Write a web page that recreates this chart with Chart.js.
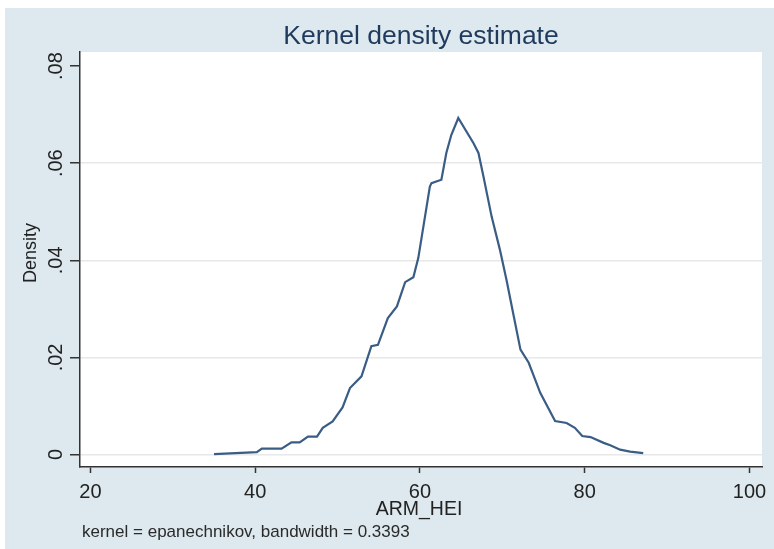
<!DOCTYPE html>
<html><head><meta charset="utf-8">
<script src="https://cdn.jsdelivr.net/npm/chart.js@4.4.1/dist/chart.umd.min.js"></script>
<style>html,body{margin:0;padding:0;background:#fff;}#wrap{width:774px;height:549px;position:relative}</style>
</head><body><div id="wrap"><canvas id="c" width="774" height="549"></canvas></div>
<script>
const chartTitle = "Kernel density estimate";
const xTitle = "ARM_HEI";
const yTitle = "Density";
const noteText = "kernel = epanechnikov, bandwidth = 0.3393";
const armHei = [35, 40.2, 40.8, 43.2, 44.4, 45.4, 46.4, 47.5, 48.2, 49.4, 50.6, 51.5, 52.9, 54.1, 54.9, 56.1, 57.2, 58.2, 59.2, 59.8, 61.2, 61.4, 62.6, 63.2, 63.8, 64.65, 66.5, 67.1, 67.7, 68.7, 69.7, 70.5, 71.3, 72.2, 73.2, 74.6, 76.4, 77.8, 78.8, 79.7, 80.7, 82.3, 83.1, 84.3, 85.5, 87.1];
const density = [0.0001, 0.0005, 0.0012, 0.0012, 0.0025, 0.0025, 0.0037, 0.0037, 0.0055, 0.0068, 0.0097, 0.0137, 0.0161, 0.0223, 0.0226, 0.0281, 0.0305, 0.0355, 0.0365, 0.0405, 0.0552, 0.0559, 0.0566, 0.0621, 0.0658, 0.0693, 0.0641, 0.0621, 0.0573, 0.0490, 0.0422, 0.0360, 0.0292, 0.0216, 0.0189, 0.0127, 0.0069, 0.0065, 0.0055, 0.0038, 0.0036, 0.0024, 0.0019, 0.0010, 0.0006, 0.0003];
const xTickValues = [20, 40, 60, 80, 100];
const yTickValues = [0, 0.02, 0.04, 0.06, 0.08];
const yTickLabels = ["0", ".02", ".04", ".06", ".08"];

const FONT = "'Liberation Sans', Arial, sans-serif";
const BG = "#dde9ee";

const decor = {
  id: 'decor',
  beforeDraw(chart) {
    const ctx = chart.ctx, a = chart.chartArea;
    ctx.save();
    ctx.fillStyle = '#ffffff';
    ctx.fillRect(0, 0, chart.width, chart.height);
    ctx.fillStyle = BG;
    ctx.fillRect(5, 8, chart.width - 5, chart.height - 8);
    ctx.fillStyle = '#ffffff';
    ctx.fillRect(a.left, a.top, a.right - a.left, a.bottom - a.top);
    ctx.restore();
  },
  afterDraw(chart) {
    const ctx = chart.ctx;
    ctx.save();
    ctx.fillStyle = '#1f3a5c';
    ctx.font = "26.5px " + FONT;
    ctx.textAlign = 'center';
    ctx.textBaseline = 'alphabetic';
    ctx.fillText(chartTitle, 421, 44);
    ctx.fillStyle = '#222222';
    ctx.font = "19.5px " + FONT;
    ctx.fillText(xTitle, 419, 515);
    ctx.font = "17px " + FONT;
    ctx.textAlign = 'left';
    ctx.fillStyle = '#2a2a2a';
    ctx.fillText(noteText, 82, 537);
    ctx.translate(31, 253);
    ctx.rotate(-Math.PI / 2);
    ctx.textAlign = 'center';
    ctx.textBaseline = 'middle';
    ctx.font = "18px " + FONT;
    ctx.fillStyle = '#222222';
    ctx.fillText(yTitle, 0, 0);
    ctx.restore();
  }
};

const points = armHei.map((v, i) => ({x: v, y: density[i]}));

new Chart(document.getElementById('c'), {
  type: 'line',
  data: {
    datasets: [{
      data: points,
      borderColor: '#3a5d85',
      borderWidth: 2.2,
      pointRadius: 0,
      tension: 0,
      fill: false
    }]
  },
  options: {
    responsive: false,
    devicePixelRatio: 1,
    animation: false,
    layout: {padding: {top: 52, right: 12, left: 0, bottom: 0}},
    plugins: {legend: {display: false}, tooltip: {enabled: false}, title: {display: false}},
    scales: {
      x: {
        type: 'linear',
        min: 18.73,
        max: 101.52,
        afterBuildTicks: s => { s.ticks = xTickValues.map(v => ({value: v})); },
        afterFit: s => { s.height = 82; },
        ticks: {
          font: {size: 20, family: FONT},
          color: '#222222',
          padding: 7,
          maxRotation: 0,
          autoSkip: false,
          callback: v => String(v)
        },
        grid: {drawOnChartArea: false, drawTicks: true, tickLength: 6, tickColor: '#333333', tickWidth: 1.5},
        border: {display: true, color: '#333333', width: 1.5}
      },
      y: {
        type: 'linear',
        min: -0.00257,
        max: 0.0829,
        afterBuildTicks: s => { s.ticks = yTickValues.map(v => ({value: v})); },
        afterFit: s => { s.width = 80; },
        ticks: {
          font: {size: 20, family: FONT},
          color: '#222222',
          padding: 0,
          minRotation: 90,
          maxRotation: 90,
          crossAlign: 'center',
          autoSkip: false,
          callback: (v) => { const i = yTickValues.findIndex(t => Math.abs(t - v) < 1e-9); return i >= 0 ? yTickLabels[i] : ''; }
        },
        grid: {
          color: c => (c.tick && c.tick.value < 0.07) ? '#e8e8e8' : 'rgba(0,0,0,0)',
          lineWidth: 1.5,
          drawTicks: true,
          tickLength: 10,
          tickColor: '#333333',
          tickWidth: 1.5
        },
        border: {display: true, color: '#333333', width: 1.5}
      }
    }
  },
  plugins: [decor]
});
</script></body></html>
